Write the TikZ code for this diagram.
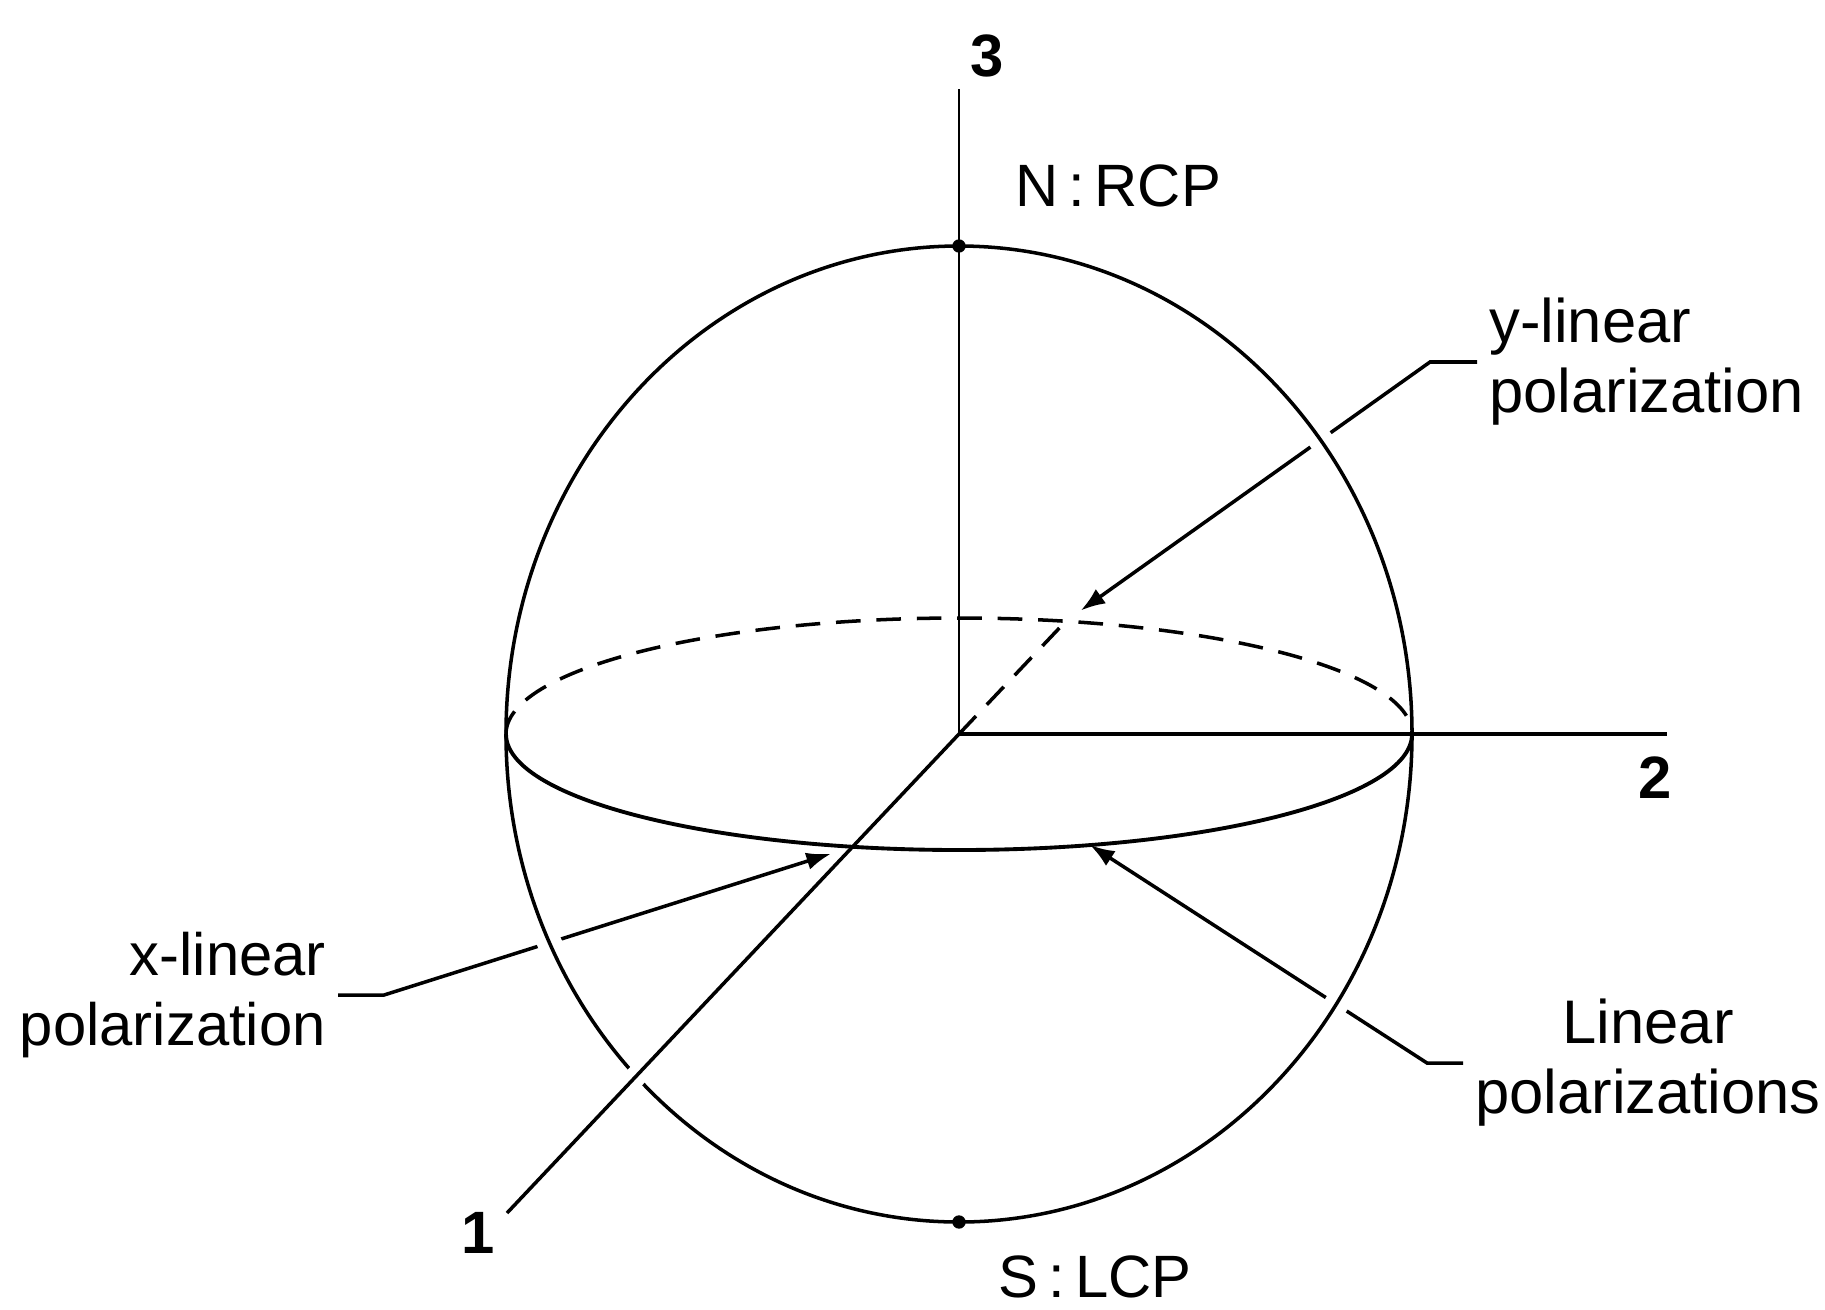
\documentclass[tikz,border=0pt]{standalone}
\usepackage{fontspec}
\setmainfont{Liberation Sans}
\usetikzlibrary{arrows.meta,calc}
\tikzstyle{every picture}=[>={Latex[length=7pt,width=5pt]}]
\tikzstyle{lbl}=[font=\fontsize{17}{19.9}\selectfont, inner sep=3pt]
\tikzstyle{widelbl}=[lbl, font=\fontsize{17.5}{19.9}\selectfont]
\tikzstyle{num}=[font=\fontsize{17}{20}\selectfont\bfseries, inner sep=0pt]
\tikzstyle{leader}=[->, line width=1pt]
\tikzstyle{back}=[dash pattern=on 7pt off 4.5pt, line width=1pt]
\tikzstyle{pole}=[circle, fill, inner sep=0pt, minimum size=3.8pt]

\begin{document}
\begin{tikzpicture}[x=0.01cm,y=-0.01cm,line width=1pt]
  \useasboundingbox (0,0) rectangle (1825,1309);
  \coordinate (O) at (959,734);
  \coordinate (three) at (959,89);
  \coordinate (two) at (1667,734);
  \coordinate (one) at (507,1213);
  \coordinate (W) at (506,734);
  \coordinate (xpol) at (852,847);
  \coordinate (ypol) at (1066,621);
  \coordinate (lin) at (1090,845);

  \node[lbl, align=right, anchor=east] (xlab) at (338,995) {x-linear\\polarization};
  \node[widelbl, align=left, anchor=west] (ylab) at (1477,362) {y-linear\\polarization};
  \node[widelbl, align=center, anchor=west] (linlab) at (1463,1063) {Linear\\polarizations};

  \draw[leader, shorten >=0.22cm] (xlab.east) -- ++(46,0) -- (xpol);
  \draw[leader, shorten >=0.18cm] (ylab.west) -- ++(-47,0) -- (ypol);
  \draw[leader] (linlab.west) -- ++(-36,0) -- (lin);

  \draw[preaction={draw=white, line width=7pt}] (O) ellipse [x radius=453, y radius=488];
  \draw[back] (W) arc[start angle=180, end angle=360, x radius=453, y radius=116];
  \draw[line width=1.1pt] (W) arc[start angle=180, end angle=0, x radius=453, y radius=116];

  \draw[line width=0.6pt] (O) -- (three);
  \draw (O) -- (two);
  \draw[back] (O) -- (ypol);
  \draw[white, line width=6pt] ($(O)!0.68!(one)$) -- ($(O)!0.75!(one)$);
  \draw (O) -- (one);

  \node[pole] (N) at (959,246) {};
  \node[pole] (S) at (959,1222) {};
  \node[num] (l3) at (987,56) {3};
  \node[num] (l2) at (1655,778) {2};
  \node[num] (l1) at (478,1233) {1};
  \node[lbl] (nrcp) at (1118,186) {N\,:\,RCP};
  \node[lbl] (slcp) at (1095,1277) {S\,:\,LCP};
\end{tikzpicture}
\end{document}
